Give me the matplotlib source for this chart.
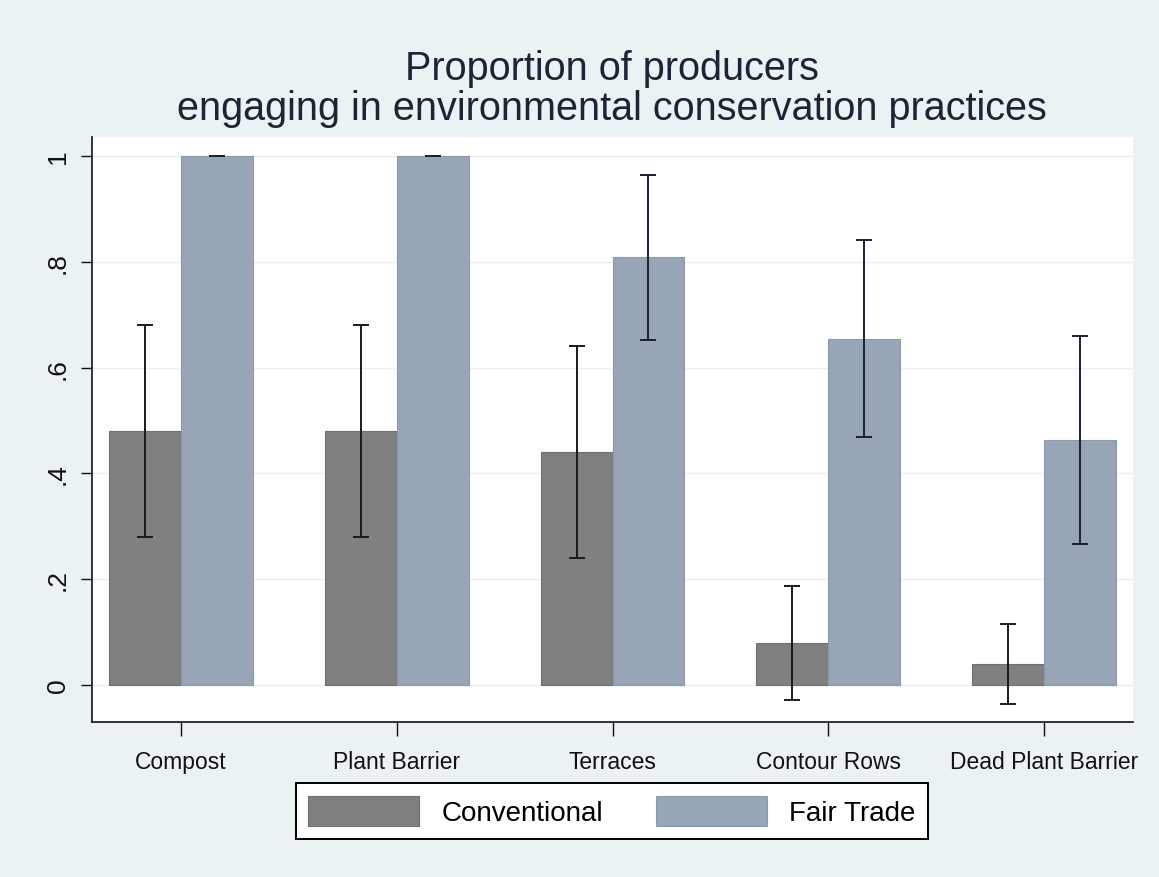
import numpy as np
import matplotlib
matplotlib.use("Agg")
import matplotlib.pyplot as plt

# -------------------------------
# Data
# -------------------------------
practices = ["Compost", "Plant Barrier", "Terraces", "Contour Rows", "Dead Plant Barrier"]
conventional = [0.48, 0.48, 0.44, 0.08, 0.04]
conv_lo = [0.28, 0.28, 0.24, -0.028, -0.036]
conv_hi = [0.68, 0.68, 0.64, 0.188, 0.116]
fair_trade = [1.0, 1.0, 0.81, 0.655, 0.463]
fair_lo = [1.0, 1.0, 0.653, 0.469, 0.266]
fair_hi = [1.0, 1.0, 0.965, 0.841, 0.66]
yticks = [0, 0.2, 0.4, 0.6, 0.8, 1.0]
ytick_labels = ["0", ".2", ".4", ".6", ".8", "1"]

bg = "#EAF2F3"
c_conv = "#808080"
c_fair = "#97A5B7"
fam = ["Liberation Sans", "DejaVu Sans"]

fig = plt.figure(figsize=(11.59, 8.78), dpi=100, facecolor=bg)
ax = fig.add_axes([92 / 1159, 1 - 723 / 878, (1133 - 92) / 1159, (723 - 138) / 878])
ax.set_facecolor("white")

x = np.arange(len(practices))
w = 1 / 3
conv = np.array(conventional)
fair = np.array(fair_trade)

ax.bar(x - w / 2, conv, width=w, color=c_conv, edgecolor="#6f6f6f", linewidth=0.8,
       label="Conventional", zorder=2)
ax.bar(x + w / 2, fair, width=w, color=c_fair, edgecolor="#8a98aa", linewidth=0.8,
       label="Fair Trade", zorder=2)

ax.errorbar(x - w / 2, conv,
            yerr=[conv - np.array(conv_lo), np.array(conv_hi) - conv],
            fmt="none", ecolor="#1a1a1a", elinewidth=1.4, capsize=6, capthick=1.4, zorder=3)
ax.errorbar(x + w / 2, fair,
            yerr=[fair - np.array(fair_lo), np.array(fair_hi) - fair],
            fmt="none", ecolor="#1a2030", elinewidth=1.4, capsize=6, capthick=1.4, zorder=3)

ax.set_xlim(-0.412, 4.412)
ax.set_ylim(-0.07, 1.036)
ax.set_yticks(yticks)
ax.set_yticklabels(ytick_labels, rotation=90, va="center", fontsize=19, family=fam)
ax.set_xticks(x)
ax.set_xticklabels(practices, fontsize=16.5, family=fam)
ax.tick_params(axis="y", length=8, width=1, pad=8, colors="#111111")
ax.tick_params(axis="x", length=10, width=1, pad=10, colors="#111111")
ax.grid(axis="y", color="#EEEEEE", linewidth=1, zorder=0)
ax.set_axisbelow(True)

for side in ["top", "right"]:
    ax.spines[side].set_visible(False)
for side in ["left", "bottom"]:
    ax.spines[side].set_color("#111111")
    ax.spines[side].set_linewidth(1.2)

fig.text(612 / 1159, 1 - 89 / 878,
         "Proportion of producers\nengaging in environmental conservation practices",
         ha="center", va="center", fontsize=28.5, color="#1c2436",
         family=fam, linespacing=1.1)

leg = fig.legend(loc="center", bbox_to_anchor=(612 / 1159, 1 - 812 / 878), ncol=2,
                 frameon=True, fancybox=False, edgecolor="black", facecolor="white",
                 framealpha=1, prop={"family": fam, "size": 20},
                 handlelength=4.0, handleheight=1.3, columnspacing=1.9,
                 handletextpad=0.8, borderpad=0.45)
leg.get_frame().set_linewidth(1.4)

fig.savefig("out.png", dpi=100, facecolor=bg)
